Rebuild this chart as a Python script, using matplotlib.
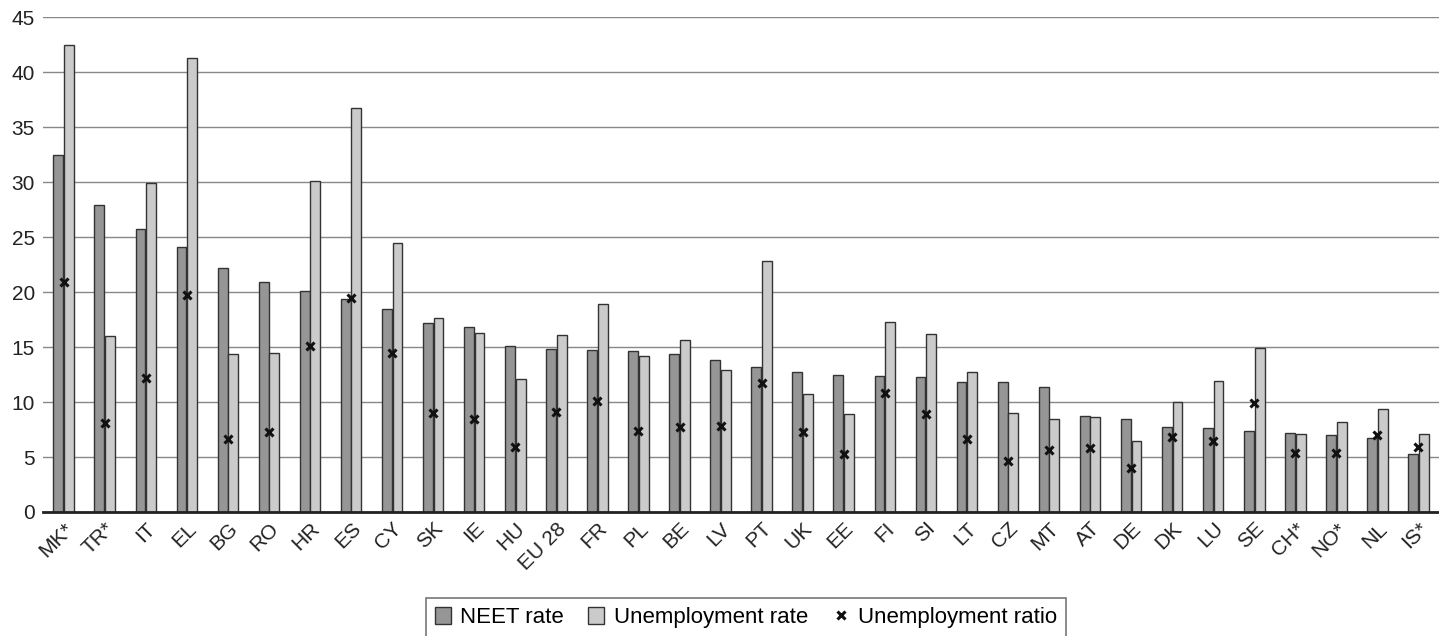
import numpy as np
import matplotlib
matplotlib.use("Agg")
import matplotlib.pyplot as plt

plt.rcParams['font.family'] = ['Liberation Sans', 'DejaVu Sans']

countries = ["MK*", "TR*", "IT", "EL", "BG", "RO", "HR", "ES", "CY", "SK", "IE",
             "HU", "EU 28", "FR", "PL", "BE", "LV", "PT", "UK", "EE", "FI", "SI",
             "LT", "CZ", "MT", "AT", "DE", "DK", "LU", "SE", "CH*", "NO*", "NL", "IS*"]
neet_rate = [32.5, 27.9, 25.7, 24.1, 22.2, 20.9, 20.1, 19.4, 18.5, 17.2, 16.8,
             15.1, 14.8, 14.7, 14.6, 14.4, 13.8, 13.2, 12.7, 12.5, 12.4, 12.3,
             11.8, 11.8, 11.4, 8.7, 8.5, 7.7, 7.6, 7.4, 7.2, 7.0, 6.7, 5.3]
unemp_rate = [42.5, 16.0, 29.9, 41.3, 14.4, 14.5, 30.1, 36.7, 24.5, 17.6, 16.3,
              12.1, 16.1, 18.9, 14.2, 15.6, 12.9, 22.8, 10.7, 8.9, 17.3, 16.2,
              12.7, 9.0, 8.5, 8.6, 6.5, 10.0, 11.9, 14.9, 7.1, 8.2, 9.4, 7.1]
unemp_ratio = [20.9, 8.1, 12.2, 19.7, 6.6, 7.3, 15.1, 19.5, 14.5, 9.0, 8.5,
               5.9, 9.1, 10.1, 7.4, 7.7, 7.8, 11.7, 7.3, 5.3, 10.8, 8.9,
               6.6, 4.6, 5.6, 5.8, 4.0, 6.8, 6.5, 9.9, 5.4, 5.4, 7.0, 5.9]

x = np.arange(len(countries))
w = 0.24
fs = 15

fig = plt.figure(figsize=(14.39, 6.36), dpi=100)
ax = fig.add_axes([0.030, 0.195, 0.970, 0.778])

b1 = ax.bar(x - w / 2 - 0.01, neet_rate, width=w, color='#969696', edgecolor='#333333',
            linewidth=1.0, label='NEET rate', zorder=2)
b2 = ax.bar(x + w / 2 + 0.01, unemp_rate, width=w, color='#cbcbcb', edgecolor='#333333',
            linewidth=1.0, label='Unemployment rate', zorder=2)
m, = ax.plot(x, unemp_ratio, linestyle='none', marker='x', color='#111111', markersize=6,
             markeredgewidth=2.2, label='Unemployment ratio', zorder=3)

ax.set_xlim(-0.5, len(countries) - 0.5)
ax.set_ylim(0, 45)
ax.set_yticks(np.arange(0, 46, 5))
ax.yaxis.grid(True, color='#888888', linewidth=1.0, zorder=0)
ax.set_axisbelow(True)
for s in ['top', 'right', 'left']:
    ax.spines[s].set_visible(False)
ax.spines['bottom'].set_linewidth(2)
ax.spines['bottom'].set_color('#222222')
ax.tick_params(axis='both', length=0, labelsize=fs, colors='#222222')
ax.tick_params(axis='y', pad=6)
ax.tick_params(axis='x', pad=5)
ax.set_xticks(x)
ax.set_xticklabels(countries, rotation=45, ha='right', rotation_mode='anchor')

# legend sits low, its bottom edge runs off the figure like in the source
leg = fig.legend(handles=[b1, b2, m], loc='upper center', bbox_to_anchor=(0.5184, 1 - 598 / 636),
                 ncol=3, frameon=True, fancybox=False, fontsize=16, handlelength=0.72,
                 handleheight=0.75, handletextpad=0.42, columnspacing=1.1, borderpad=0.42,
                 borderaxespad=0)
leg.get_frame().set_edgecolor('#555555')
leg.get_frame().set_linewidth(1.2)

fig.savefig('out.png', dpi=100)
